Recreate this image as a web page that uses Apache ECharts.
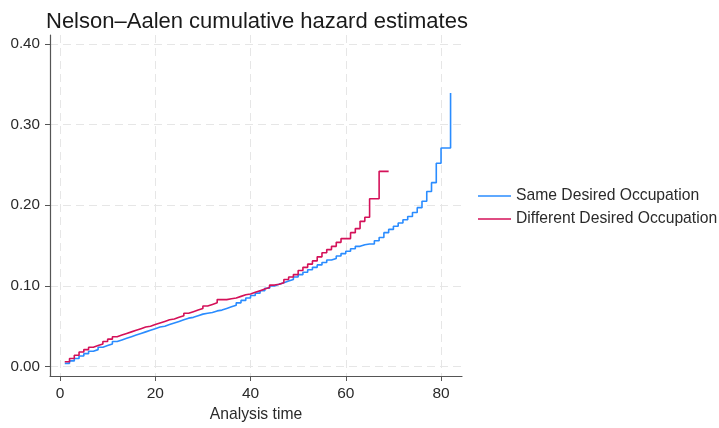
<!DOCTYPE html>
<html>
<head>
<meta charset="utf-8">
<script src="https://cdn.jsdelivr.net/npm/echarts@6/dist/echarts.min.js"></script>
<style>
html,body{margin:0;padding:0;background:#fff;}
#chart{width:719px;height:428px;}
</style>
</head>
<body>
<div id="chart"></div>
<script>
// ---- data ----
const titleText = 'Nelson\u2013Aalen cumulative hazard estimates';
const xAxisName = 'Analysis time';
const seriesNames = ['Same Desired Occupation', 'Different Desired Occupation'];
const xTicks = [0, 20, 40, 60, 80];
const yTicks = [0, 0.1, 0.2, 0.3, 0.4];

const sameTimes = [1,2,3,4,5,6,7,8,9,10,11,12,13,14,15,16,17,18,19,20,21,22,23,24,25,26,27,28,29,30,
  31,32,33,34,35,36,37,38,39,40,41,42,43,44,45,46,47,48,49,50,51,52,53,54,55,56,57,58,59,60,
  61,62,63,64,65,66,67,68,69,70,71,72,73,74,75,76,77,78,79,80,81,82];
const sameHazard = [0.004,0.007,0.010,0.013,0.016,0.019,0.021,0.024,0.026,0.028,0.031,0.033,0.035,0.037,0.039,0.041,0.043,0.045,0.047,0.049,
  0.050,0.052,0.054,0.056,0.058,0.060,0.061,0.063,0.065,0.066,0.067,0.069,0.070,0.072,0.074,0.076,0.079,0.082,0.085,0.088,
  0.091,0.094,0.097,0.100,0.102,0.104,0.106,0.108,0.111,0.114,0.117,0.120,0.123,0.126,0.129,0.132,0.134,0.137,0.140,0.143,
  0.146,0.149,0.151,0.152,0.152,0.156,0.160,0.166,0.170,0.174,0.178,0.182,0.186,0.191,0.197,0.205,0.217,0.228,0.252,0.271,0.271,0.339];

const diffTimes = [1,2,3,4,5,6,7,8,9,10,11,12,13,14,15,16,17,18,19,20,21,22,23,24,25,26,27,28,29,30,
  31,32,33,34,35,36,37,38,39,40,41,42,43,44,45,46,47,48,49,50,51,52,53,54,55,56,57,58,59,60,
  61,62,63,64,65,66,67,68,69];
const diffHazard = [0.006,0.010,0.014,0.018,0.021,0.024,0.026,0.028,0.031,0.034,0.037,0.039,0.041,0.043,0.045,0.047,0.049,0.050,0.052,0.054,
  0.056,0.058,0.059,0.061,0.063,0.066,0.068,0.070,0.072,0.075,0.077,0.079,0.083,0.083,0.084,0.085,0.087,0.089,0.090,0.092,
  0.094,0.096,0.098,0.101,0.102,0.104,0.108,0.111,0.114,0.119,0.123,0.127,0.131,0.136,0.141,0.145,0.149,0.154,0.1586,0.1586,
  0.166,0.171,0.180,0.185,0.208,0.208,0.242,0.242,0.242];

const colors = ['#2a8cff', '#d41159'];

function pairs(ts, vs) { return ts.map((t, i) => [t, vs[i]]); }

const chart = echarts.init(document.getElementById('chart'), null, {renderer: 'canvas'});
const font = '"Liberation Sans", Arial, sans-serif';
const gridLine = {show: true, lineStyle: {color: '#e6e6e6', type: [8, 5], width: 1}};
const txt = '#2a2a2a';

chart.setOption({
  animation: false,
  backgroundColor: '#ffffff',
  textStyle: {fontFamily: font},
  title: {
    text: titleText, left: 41, top: 6,
    textStyle: {fontFamily: font, fontSize: 22, fontWeight: 'normal', color: '#1a1a1a'}
  },
  legend: {
    orient: 'vertical', left: 473, top: 183, itemWidth: 33, itemHeight: 1.6, itemGap: 7,
    icon: 'rect',
    data: seriesNames,
    textStyle: {fontFamily: font, fontSize: 15.7, color: txt, lineHeight: 16}
  },
  grid: {left: 50, top: 35, width: 412, height: 343, containLabel: false},
  xAxis: {
    type: 'value', min: -2.1, max: 84.4,
    name: xAxisName, nameLocation: 'middle', nameGap: 31,
    nameTextStyle: {fontFamily: font, fontSize: 15.7, color: txt},
    axisLine: {show: true, onZero: false, lineStyle: {color: '#555', width: 1.2}},
    axisTick: {show: true, length: 5, customValues: xTicks, lineStyle: {color: '#555'}},
    axisLabel: {customValues: xTicks, fontSize: 15.5, color: txt, margin: 10, fontFamily: font},
    splitLine: gridLine
  },
  yAxis: {
    type: 'value', min: -0.0117, max: 0.411,
    axisLine: {show: true, onZero: false, lineStyle: {color: '#555', width: 1.2}},
    axisTick: {show: true, length: 5, customValues: yTicks, lineStyle: {color: '#555'}},
    axisLabel: {customValues: yTicks, fontSize: 15.2, color: txt, margin: 10, fontFamily: font,
      formatter: v => v.toFixed(2)},
    splitLine: gridLine
  },
  series: [
    {name: seriesNames[0], type: 'line', step: 'end', symbol: 'none', data: pairs(sameTimes, sameHazard),
     color: colors[0], lineStyle: {color: colors[0], width: 1.6}},
    {name: seriesNames[1], type: 'line', step: 'end', symbol: 'none', data: pairs(diffTimes, diffHazard),
     color: colors[1], lineStyle: {color: colors[1], width: 1.6}}
  ]
});
</script>
</body>
</html>
